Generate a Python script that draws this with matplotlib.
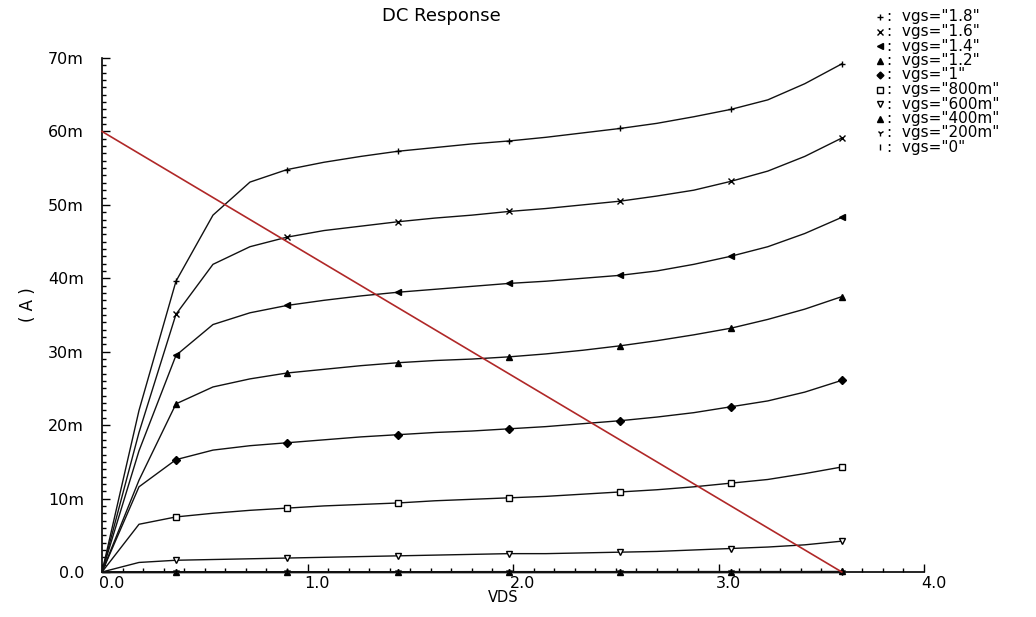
"""DC Response: NMOS Id-Vds family with a load line, Cadence-style plot."""
import matplotlib
import numpy as np

matplotlib.use("Agg")
import matplotlib.pyplot as plt
from matplotlib.lines import Line2D
from matplotlib.transforms import ScaledTranslation

# sweep points (V)
vds = [0.0, 0.18, 0.36, 0.54, 0.72, 0.90, 1.08, 1.26, 1.44, 1.62, 1.80,
       1.98, 2.16, 2.34, 2.52, 2.70, 2.88, 3.06, 3.24, 3.42, 3.60]

# drain current per vgs (mA)
id_1v8 = [0, 22.0, 39.6, 48.6, 53.1, 54.8, 55.8, 56.6, 57.3, 57.8, 58.3,
          58.7, 59.2, 59.8, 60.4, 61.1, 62.0, 63.0, 64.3, 66.5, 69.2]
id_1v6 = [0, 19.0, 35.1, 41.9, 44.3, 45.6, 46.5, 47.1, 47.7, 48.2, 48.6,
          49.1, 49.5, 50.0, 50.5, 51.2, 52.0, 53.2, 54.6, 56.6, 59.1]
id_1v4 = [0, 16.5, 29.5, 33.7, 35.3, 36.3, 37.0, 37.6, 38.1, 38.5, 38.9,
          39.3, 39.6, 40.0, 40.4, 41.0, 41.9, 43.0, 44.3, 46.1, 48.3]
id_1v2 = [0, 12.5, 22.9, 25.2, 26.3, 27.1, 27.6, 28.1, 28.5, 28.8, 29.0,
          29.3, 29.7, 30.2, 30.8, 31.5, 32.3, 33.2, 34.4, 35.8, 37.5]
id_1v0 = [0, 11.6, 15.3, 16.6, 17.2, 17.6, 18.0, 18.4, 18.7, 19.0, 19.2,
          19.5, 19.8, 20.2, 20.6, 21.1, 21.7, 22.5, 23.3, 24.5, 26.1]
id_800m = [0, 6.5, 7.5, 8.0, 8.4, 8.7, 9.0, 9.2, 9.4, 9.7, 9.9,
           10.1, 10.3, 10.6, 10.9, 11.2, 11.6, 12.1, 12.6, 13.4, 14.3]
id_600m = [0, 1.3, 1.6, 1.7, 1.8, 1.9, 2.0, 2.1, 2.2, 2.3, 2.4,
           2.5, 2.5, 2.6, 2.7, 2.8, 3.0, 3.2, 3.4, 3.7, 4.2]
id_400m = [0, 0.02, 0.03, 0.03, 0.03, 0.04, 0.04, 0.04, 0.04, 0.04, 0.05,
           0.05, 0.05, 0.05, 0.05, 0.05, 0.06, 0.06, 0.06, 0.06, 0.07]
id_200m = [0] * 21
id_0 = [0] * 21

labels = ['vgs="1.8"', 'vgs="1.6"', 'vgs="1.4"', 'vgs="1.2"', 'vgs="1"',
          'vgs="800m"', 'vgs="600m"', 'vgs="400m"', 'vgs="200m"', 'vgs="0"']
markers = ["+", "x", "<", "^", "D", "s", "v", "^", "1", "|"]

# load line (V, mA)
load_v = [0.0, 3.6]
load_i = [60.0, 0.0]

xticks = [0, 1, 2, 3, 4]
xticklabels = ["0.0", "1.0", "2.0", "3.0", "4.0"]
yticks = [0, 10, 20, 30, 40, 50, 60, 70]
yticklabels = ["0.0", "10m", "20m", "30m", "40m", "50m", "60m", "70m"]

W, H = 1036, 617
fig = plt.figure(figsize=(W / 100, H / 100), dpi=100)
ax = fig.add_axes([102 / W, 1 - 572 / H, (924 - 102) / W, (572 - 58) / H])


def mstyle(m):
    hollow = m in ("s", "v")
    size = 4 if m == "D" else 5
    return dict(marker=m, ms=size, mew=1.0, mec="black",
                mfc="white" if hollow else "black")


curves = [id_1v8, id_1v6, id_1v4, id_1v2, id_1v0, id_800m, id_600m,
          id_400m, id_200m, id_0]
mk_idx = [2, 5, 8, 11, 14, 17, 20]
for ys, m in zip(curves, markers):
    ax.plot(vds, ys, color="#111111", lw=1.0, markevery=mk_idx,
            clip_on=False, zorder=3, **mstyle(m))

ax.plot(load_v, load_i, color="#b02828", lw=1.2, zorder=4, clip_on=False)

ax.set_xlim(0, 4)
ax.set_ylim(0, 70)
ax.set_xticks(xticks)
ax.set_xticklabels(xticklabels)
ax.set_yticks(yticks)
ax.set_yticklabels(yticklabels)
ax.set_xticks(np.arange(0, 4.0001, 0.1), minor=True)
ax.set_yticks(np.arange(0, 70.001, 1), minor=True)
ax.tick_params(which="major", direction="in", length=6, width=1,
               labelsize=11.5, pad=3)
ax.tick_params(which="minor", direction="in", length=3, width=1)
ax.tick_params(axis="y", which="major", pad=13)
for lbl in ax.get_xticklabels():
    lbl.set_transform(lbl.get_transform() + ScaledTranslation(0.1, 0, fig.dpi_scale_trans))
for sp in ("top", "right"):
    ax.spines[sp].set_visible(False)
for sp in ("left", "bottom"):
    ax.spines[sp].set_linewidth(1.2)

fig.text(441 / W, 1 - 16 / H, "DC Response", ha="center", va="center", fontsize=13)
fig.text(503 / W, 1 - 598 / H, "VDS", ha="center", va="center", fontsize=10.5)
fig.text(28 / W, 1 - 305 / H, "( A )", ha="center", va="center", fontsize=12,
         rotation=90)

# legend, drawn row by row
for i, (lab, m) in enumerate(zip(labels, markers)):
    y = 1 - (17 + 14.5 * i) / H
    st = mstyle(m)
    st["ms"] -= 0.5
    fig.add_artist(Line2D([880 / W], [y], transform=fig.transFigure,
                          color="black", ls="none", **st))
    fig.text(887 / W, y, ":  " + lab, ha="left", va="center", fontsize=11)

fig.savefig("out.png", dpi=100)
